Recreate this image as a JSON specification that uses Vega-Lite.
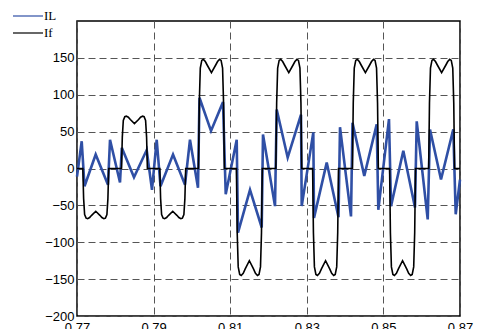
{
  "$schema": "https://vega.github.io/schema/vega-lite/v6.json",
  "width": 383,
  "height": 295,
  "autosize": {"type": "none"},
  "padding": {"left": 77, "top": 21, "right": 21, "bottom": 13},
  "background": "white",
  "config": {
    "view": {"stroke": "black", "strokeWidth": 1.5},
    "axis": {
      "domain": false,
      "ticks": false,
      "grid": true,
      "gridColor": "#555555",
      "gridDash": [7, 4],
      "gridWidth": 1,
      "labelFont": "Liberation Sans",
      "labelFontSize": 13,
      "labelColor": "black",
      "title": null
    }
  },
  "datasets": {
    "il": [
      {"t": 0.77000, "v": -11, "s": "IL"}, {"t": 0.77123, "v": 37, "s": "IL"}, {"t": 0.77196, "v": -24, "s": "IL"},
      {"t": 0.77488, "v": 19, "s": "IL"}, {"t": 0.77809, "v": -22, "s": "IL"}, {"t": 0.77862, "v": 39, "s": "IL"},
      {"t": 0.78123, "v": -19, "s": "IL"}, {"t": 0.78170, "v": 28, "s": "IL"}, {"t": 0.78488, "v": -12, "s": "IL"},
      {"t": 0.78820, "v": 25, "s": "IL"}, {"t": 0.78958, "v": -29, "s": "IL"}, {"t": 0.79081, "v": 39, "s": "IL"},
      {"t": 0.79180, "v": -24, "s": "IL"}, {"t": 0.79507, "v": 19, "s": "IL"}, {"t": 0.79820, "v": -22, "s": "IL"},
      {"t": 0.79950, "v": 39, "s": "IL"}, {"t": 0.80159, "v": -26, "s": "IL"}, {"t": 0.80198, "v": 96, "s": "IL"},
      {"t": 0.80499, "v": 51, "s": "IL"}, {"t": 0.80812, "v": 90, "s": "IL"}, {"t": 0.80883, "v": -35, "s": "IL"},
      {"t": 0.81170, "v": 39, "s": "IL"}, {"t": 0.81204, "v": -87, "s": "IL"}, {"t": 0.81517, "v": -29, "s": "IL"},
      {"t": 0.81823, "v": -80, "s": "IL"}, {"t": 0.81856, "v": 46, "s": "IL"}, {"t": 0.82170, "v": -51, "s": "IL"},
      {"t": 0.82214, "v": 80, "s": "IL"}, {"t": 0.82501, "v": 15, "s": "IL"}, {"t": 0.82849, "v": 73, "s": "IL"},
      {"t": 0.82867, "v": -51, "s": "IL"}, {"t": 0.83170, "v": 49, "s": "IL"}, {"t": 0.83188, "v": -67, "s": "IL"},
      {"t": 0.83520, "v": 8, "s": "IL"}, {"t": 0.83828, "v": -66, "s": "IL"}, {"t": 0.83867, "v": 56, "s": "IL"},
      {"t": 0.84154, "v": -65, "s": "IL"}, {"t": 0.84193, "v": 62, "s": "IL"}, {"t": 0.84501, "v": -10, "s": "IL"},
      {"t": 0.84825, "v": 60, "s": "IL"}, {"t": 0.84867, "v": -56, "s": "IL"}, {"t": 0.85146, "v": 67, "s": "IL"},
      {"t": 0.85199, "v": -51, "s": "IL"}, {"t": 0.85520, "v": 24, "s": "IL"}, {"t": 0.85825, "v": -53, "s": "IL"},
      {"t": 0.85870, "v": 64, "s": "IL"}, {"t": 0.86157, "v": -69, "s": "IL"}, {"t": 0.86217, "v": 53, "s": "IL"},
      {"t": 0.86504, "v": -15, "s": "IL"}, {"t": 0.86825, "v": 53, "s": "IL"}, {"t": 0.86888, "v": -62, "s": "IL"},
      {"t": 0.87000, "v": -15, "s": "IL"}
    ],
    "if": [
      {"t": 0.77000, "v": 0, "s": "If"},
      {"t": 0.77152, "v": 0, "s": "If"}, {"t": 0.77173, "v": -40.8, "s": "If"}, {"t": 0.77199, "v": -62.6, "s": "If"},
      {"t": 0.77238, "v": -67.3, "s": "If"}, {"t": 0.77278, "v": -68, "s": "If"}, {"t": 0.77330, "v": -66.5, "s": "If"},
      {"t": 0.77382, "v": -63.5, "s": "If"}, {"t": 0.77490, "v": -58, "s": "If"}, {"t": 0.77598, "v": -63.5, "s": "If"},
      {"t": 0.77650, "v": -66.5, "s": "If"}, {"t": 0.77702, "v": -68, "s": "If"}, {"t": 0.77742, "v": -67.3, "s": "If"},
      {"t": 0.77781, "v": -62.6, "s": "If"}, {"t": 0.77807, "v": -40.8, "s": "If"}, {"t": 0.77828, "v": 0, "s": "If"},
      {"t": 0.78162, "v": 0, "s": "If"}, {"t": 0.78183, "v": 42.6, "s": "If"}, {"t": 0.78209, "v": 65.3, "s": "If"},
      {"t": 0.78248, "v": 70.3, "s": "If"}, {"t": 0.78288, "v": 71, "s": "If"}, {"t": 0.78340, "v": 69.5, "s": "If"},
      {"t": 0.78392, "v": 66.5, "s": "If"}, {"t": 0.78500, "v": 61, "s": "If"}, {"t": 0.78608, "v": 66.5, "s": "If"},
      {"t": 0.78660, "v": 69.5, "s": "If"}, {"t": 0.78712, "v": 71, "s": "If"}, {"t": 0.78752, "v": 70.3, "s": "If"},
      {"t": 0.78791, "v": 65.3, "s": "If"}, {"t": 0.78817, "v": 42.6, "s": "If"}, {"t": 0.78838, "v": 0, "s": "If"},
      {"t": 0.79162, "v": 0, "s": "If"}, {"t": 0.79183, "v": -40.8, "s": "If"}, {"t": 0.79209, "v": -62.6, "s": "If"},
      {"t": 0.79248, "v": -67.3, "s": "If"}, {"t": 0.79288, "v": -68, "s": "If"}, {"t": 0.79340, "v": -66.5, "s": "If"},
      {"t": 0.79392, "v": -63.5, "s": "If"}, {"t": 0.79500, "v": -58, "s": "If"}, {"t": 0.79608, "v": -63.5, "s": "If"},
      {"t": 0.79660, "v": -66.5, "s": "If"}, {"t": 0.79712, "v": -68, "s": "If"}, {"t": 0.79752, "v": -67.3, "s": "If"},
      {"t": 0.79791, "v": -62.6, "s": "If"}, {"t": 0.79817, "v": -40.8, "s": "If"}, {"t": 0.79838, "v": 0, "s": "If"},
      {"t": 0.80172, "v": 0, "s": "If"}, {"t": 0.80193, "v": 89, "s": "If"}, {"t": 0.80219, "v": 136, "s": "If"},
      {"t": 0.80258, "v": 146.5, "s": "If"}, {"t": 0.80298, "v": 148, "s": "If"}, {"t": 0.80350, "v": 145, "s": "If"},
      {"t": 0.80402, "v": 140, "s": "If"}, {"t": 0.80510, "v": 130, "s": "If"}, {"t": 0.80618, "v": 140, "s": "If"},
      {"t": 0.80670, "v": 145, "s": "If"}, {"t": 0.80722, "v": 148, "s": "If"}, {"t": 0.80762, "v": 146.5, "s": "If"},
      {"t": 0.80801, "v": 136, "s": "If"}, {"t": 0.80827, "v": 89, "s": "If"}, {"t": 0.80848, "v": 0, "s": "If"},
      {"t": 0.81162, "v": 0, "s": "If"}, {"t": 0.81183, "v": -87, "s": "If"}, {"t": 0.81209, "v": -133.4, "s": "If"},
      {"t": 0.81248, "v": -143.6, "s": "If"}, {"t": 0.81288, "v": -145, "s": "If"}, {"t": 0.81340, "v": -142, "s": "If"},
      {"t": 0.81392, "v": -136, "s": "If"}, {"t": 0.81500, "v": -125, "s": "If"}, {"t": 0.81608, "v": -136, "s": "If"},
      {"t": 0.81660, "v": -142, "s": "If"}, {"t": 0.81712, "v": -145, "s": "If"}, {"t": 0.81752, "v": -143.6, "s": "If"},
      {"t": 0.81791, "v": -133.4, "s": "If"}, {"t": 0.81817, "v": -87, "s": "If"}, {"t": 0.81838, "v": 0, "s": "If"},
      {"t": 0.82192, "v": 0, "s": "If"}, {"t": 0.82213, "v": 89, "s": "If"}, {"t": 0.82239, "v": 136, "s": "If"},
      {"t": 0.82278, "v": 146.5, "s": "If"}, {"t": 0.82318, "v": 148, "s": "If"}, {"t": 0.82370, "v": 145, "s": "If"},
      {"t": 0.82422, "v": 140, "s": "If"}, {"t": 0.82530, "v": 130, "s": "If"}, {"t": 0.82638, "v": 140, "s": "If"},
      {"t": 0.82690, "v": 145, "s": "If"}, {"t": 0.82742, "v": 148, "s": "If"}, {"t": 0.82782, "v": 146.5, "s": "If"},
      {"t": 0.82821, "v": 136, "s": "If"}, {"t": 0.82847, "v": 89, "s": "If"}, {"t": 0.82868, "v": 0, "s": "If"},
      {"t": 0.83152, "v": 0, "s": "If"}, {"t": 0.83173, "v": -87, "s": "If"}, {"t": 0.83199, "v": -133.4, "s": "If"},
      {"t": 0.83238, "v": -143.6, "s": "If"}, {"t": 0.83278, "v": -145, "s": "If"}, {"t": 0.83330, "v": -142, "s": "If"},
      {"t": 0.83382, "v": -136, "s": "If"}, {"t": 0.83490, "v": -125, "s": "If"}, {"t": 0.83598, "v": -136, "s": "If"},
      {"t": 0.83650, "v": -142, "s": "If"}, {"t": 0.83702, "v": -145, "s": "If"}, {"t": 0.83742, "v": -143.6, "s": "If"},
      {"t": 0.83781, "v": -133.4, "s": "If"}, {"t": 0.83807, "v": -87, "s": "If"}, {"t": 0.83828, "v": 0, "s": "If"},
      {"t": 0.84192, "v": 0, "s": "If"}, {"t": 0.84213, "v": 89, "s": "If"}, {"t": 0.84239, "v": 136, "s": "If"},
      {"t": 0.84278, "v": 146.5, "s": "If"}, {"t": 0.84318, "v": 148, "s": "If"}, {"t": 0.84370, "v": 145, "s": "If"},
      {"t": 0.84422, "v": 140, "s": "If"}, {"t": 0.84530, "v": 130, "s": "If"}, {"t": 0.84638, "v": 140, "s": "If"},
      {"t": 0.84690, "v": 145, "s": "If"}, {"t": 0.84742, "v": 148, "s": "If"}, {"t": 0.84782, "v": 146.5, "s": "If"},
      {"t": 0.84821, "v": 136, "s": "If"}, {"t": 0.84847, "v": 89, "s": "If"}, {"t": 0.84868, "v": 0, "s": "If"},
      {"t": 0.85162, "v": 0, "s": "If"}, {"t": 0.85183, "v": -87, "s": "If"}, {"t": 0.85209, "v": -133.4, "s": "If"},
      {"t": 0.85248, "v": -143.6, "s": "If"}, {"t": 0.85288, "v": -145, "s": "If"}, {"t": 0.85340, "v": -142, "s": "If"},
      {"t": 0.85392, "v": -136, "s": "If"}, {"t": 0.85500, "v": -125, "s": "If"}, {"t": 0.85608, "v": -136, "s": "If"},
      {"t": 0.85660, "v": -142, "s": "If"}, {"t": 0.85712, "v": -145, "s": "If"}, {"t": 0.85752, "v": -143.6, "s": "If"},
      {"t": 0.85791, "v": -133.4, "s": "If"}, {"t": 0.85817, "v": -87, "s": "If"}, {"t": 0.85838, "v": 0, "s": "If"},
      {"t": 0.86182, "v": 0, "s": "If"}, {"t": 0.86203, "v": 89, "s": "If"}, {"t": 0.86229, "v": 136, "s": "If"},
      {"t": 0.86268, "v": 146.5, "s": "If"}, {"t": 0.86308, "v": 148, "s": "If"}, {"t": 0.86360, "v": 145, "s": "If"},
      {"t": 0.86412, "v": 140, "s": "If"}, {"t": 0.86520, "v": 130, "s": "If"}, {"t": 0.86628, "v": 140, "s": "If"},
      {"t": 0.86680, "v": 145, "s": "If"}, {"t": 0.86732, "v": 148, "s": "If"}, {"t": 0.86772, "v": 146.5, "s": "If"},
      {"t": 0.86811, "v": 136, "s": "If"}, {"t": 0.86837, "v": 89, "s": "If"}, {"t": 0.86858, "v": 0, "s": "If"},
      {"t": 0.87000, "v": 0, "s": "If"}
    ]
  },
  "encoding": {
    "x": {
      "field": "t", "type": "quantitative",
      "scale": {"domain": [0.77, 0.87], "nice": false, "zero": false},
      "axis": {"values": [0.77, 0.79, 0.81, 0.83, 0.85, 0.87], "format": ".2f", "labelPadding": 5, "labelFlush": false}
    },
    "y": {
      "field": "v", "type": "quantitative",
      "scale": {"domain": [-200, 200], "nice": false},
      "axis": {"values": [-200, -150, -100, -50, 0, 50, 100, 150], "labelPadding": 3}
    },
    "color": {
      "field": "s", "type": "nominal",
      "scale": {"domain": ["IL", "If"], "range": ["#2f4fa5", "#000000"]},
      "legend": {
        "orient": "none", "legendX": -59, "legendY": -15,
        "title": null, "symbolType": "M-1.67,0H1.67", "symbolSize": 324,
        "symbolStrokeWidth": 1.2, "symbolFillColor": "transparent", "labelFont": "Liberation Serif",
        "labelFontSize": 13, "labelColor": "black", "labelOffset": 6,
        "rowPadding": 0
      }
    }
  },
  "layer": [
    {"data": {"name": "il"}, "mark": {"type": "line", "strokeWidth": 2.6}},
    {"data": {"name": "if"}, "mark": {"type": "line", "strokeWidth": 1.6}}
  ]
}
